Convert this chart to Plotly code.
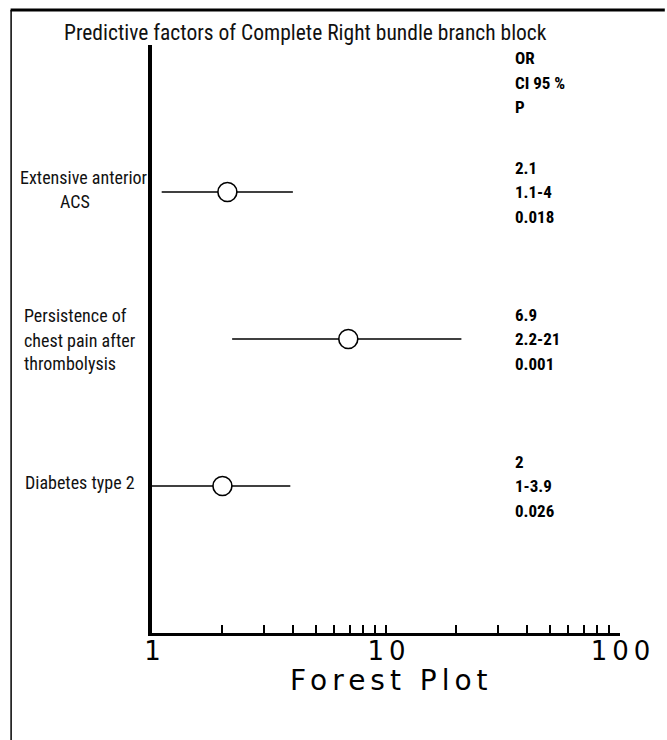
import plotly.graph_objects as go

# ---- data ----
factor_lines = [
    ["Extensive anterior", "ACS"],
    ["Persistence of", "chest pain after", "thrombolysis"],
    ["Diabetes type 2"],
]
odds_ratio = [2.1, 6.9, 2.0]
ci_low = [1.1, 2.2, 1.0]
ci_high = [4.0, 21.0, 3.9]
or_text = ["2.1", "6.9", "2"]
ci_text = ["1.1-4", "2.2-21", "1-3.9"]
p_text = ["0.018", "0.001", "0.026"]
row_pos = [3, 2, 1]
header_lines = ["OR", "CI 95 %", "P"]
tick_values = [1, 2, 3, 4, 5, 6, 7, 8, 9, 10, 20, 30, 40, 50, 60, 70, 80, 90, 100]
tick_labels = {1: "1", 10: "10", 100: "100"}
title_text = "Predictive factors of Complete Right bundle branch block"
axis_title = "Forest Plot"

# ---- layout geometry (pixels) ----
W, H = 667, 740
L, R, T, B = 152, 622, 45, 633
PW, PH = R - L, B - T


def px(xp):
    return (xp - L) / PW


def py(yp):
    return (B - yp) / PH


NARROW = "Liberation Sans Narrow, Arial Narrow, Roboto Condensed, Liberation Sans, Arial"

fig = go.Figure()
fig.add_trace(go.Scatter(
    x=odds_ratio,
    y=row_pos,
    mode="markers",
    marker=dict(symbol="circle", size=19, color="white",
                line=dict(color="black", width=1.6)),
    error_x=dict(type="data", symmetric=False,
                 array=[h - o for h, o in zip(ci_high, odds_ratio)],
                 arrayminus=[o - l for o, l in zip(odds_ratio, ci_low)],
                 width=0, thickness=1.6, color="black"),
    showlegend=False,
    hoverinfo="skip",
))

ann = []
# title
ann.append(dict(text=title_text, xref="paper", yref="paper", x=px(62), y=py(33),
                xanchor="left", yanchor="middle", showarrow=False,
                font=dict(family=NARROW, size=21.5, color="#111")))
# header
for i, t in enumerate(header_lines):
    ann.append(dict(text="<b>" + t + "</b>", xref="paper", yref="paper",
                    x=px(515), y=py(58 + 24.5 * i), xanchor="left", yanchor="middle",
                    showarrow=False, font=dict(family=NARROW, size=17, color="black")))
# values per row
for r, (o, c, p) in enumerate(zip(or_text, ci_text, p_text)):
    for j, t in enumerate([o, c, p]):
        ann.append(dict(text="<b>" + t + "</b>", xref="paper", yref="y",
                        x=px(515), y=row_pos[r], yshift=24.5 - 24.5 * j,
                        xanchor="left", yanchor="middle", showarrow=False,
                        font=dict(family=NARROW, size=17, color="black")))
# left labels
label_x = [[17, 58], [21, 21, 21], [22]]
label_shift = [[15, -9], [24, -1, -24], [4]]
for r, lines in enumerate(factor_lines):
    for j, t in enumerate(lines):
        ann.append(dict(text=t, xref="paper", yref="y",
                        x=px(label_x[r][j]), y=row_pos[r], yshift=label_shift[r][j],
                        xanchor="left", yanchor="middle", showarrow=False,
                        font=dict(family=NARROW, size=18, color="#111")))
# axis title
ann.append(dict(text='<span style="letter-spacing:5px">' + axis_title + "</span>",
                xref="paper", yref="paper", x=px(393), y=py(680),
                xanchor="center", yanchor="middle", showarrow=False,
                font=dict(family="DejaVu Sans", size=28, color="black")))

shapes = [
    dict(type="line", xref="paper", yref="paper", x0=px(10), x1=px(667),
         y0=py(10), y1=py(10), line=dict(color="black", width=3)),
    dict(type="line", xref="paper", yref="paper", x0=px(10.5), x1=px(10.5),
         y0=py(10), y1=py(740), line=dict(color="black", width=1.5)),
]

fig.update_layout(
    width=W, height=H,
    margin=dict(l=L, r=W - R, t=T, b=H - B, pad=0),
    paper_bgcolor="white", plot_bgcolor="white",
    annotations=ann, shapes=shapes,
    xaxis=dict(type="log", range=[0, 2], showgrid=False, zeroline=False,
               showline=True, linewidth=3, linecolor="black",
               tickmode="array", tickvals=tick_values,
               ticktext=['<span style="letter-spacing:5px">' + tick_labels[v] + "</span>"
                         if v in tick_labels else "" for v in tick_values],
               ticks="inside", ticklen=8, tickwidth=2, tickcolor="black",
               ticklabelstandoff=-7, ticklabelshift=3,
               tickfont=dict(family="DejaVu Sans", size=26, color="black"),
               fixedrange=True),
    yaxis=dict(range=[0, 4], showgrid=False, zeroline=False, showticklabels=False,
               showline=True, linewidth=4, linecolor="black", ticks="",
               fixedrange=True),
)

fig.write_html("out.html")
